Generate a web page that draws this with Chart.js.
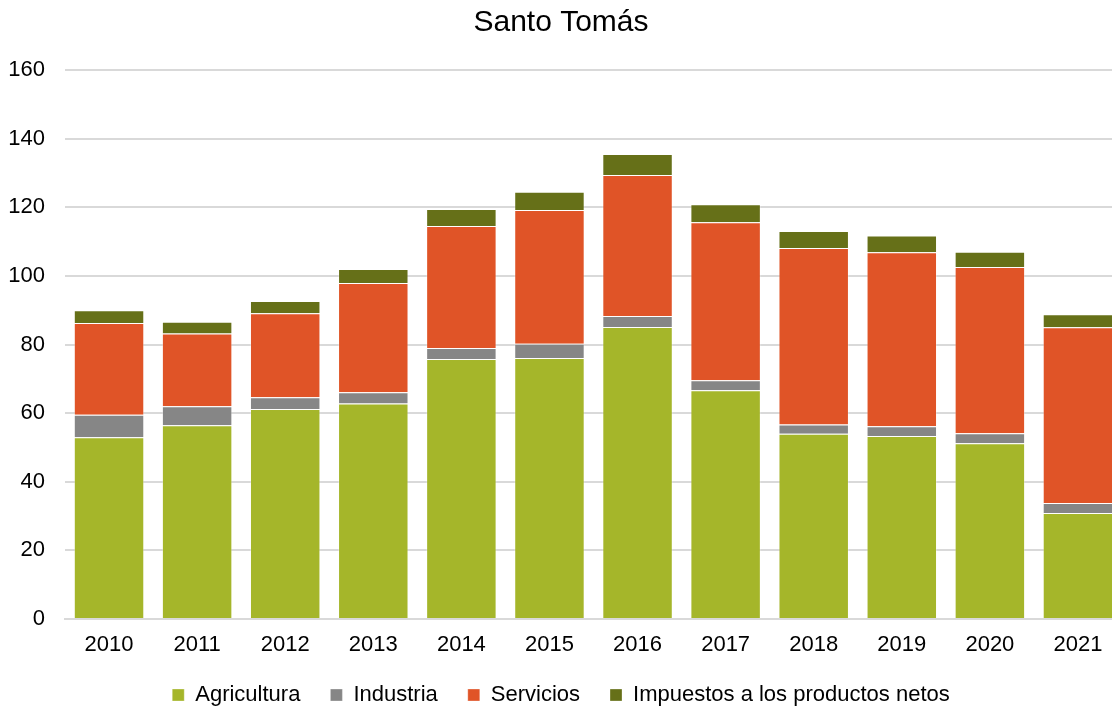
<!DOCTYPE html>
<html>
<head>
<meta charset="utf-8">
<script src="https://cdn.jsdelivr.net/npm/chart.js@4"></script>
<style>
  html, body { margin: 0; padding: 0; background: #fff; overflow: hidden; }
  #wrap { width: 1122px; height: 706px; }
</style>
</head>
<body>
<div id="wrap"><canvas id="chart"></canvas></div>
<script>
    const years = ['2010', '2011', '2012', '2013', '2014', '2015', '2016', '2017', '2018', '2019', '2020', '2021'];
    const agricultura = [53.0, 56.5, 61.2, 62.8, 75.8, 76.1, 85.1, 66.7, 54.0, 53.3, 51.2, 30.9];
    const industria = [6.5, 5.5, 3.4, 3.3, 3.2, 4.1, 3.2, 2.9, 2.7, 2.9, 2.9, 2.9];
    const servicios = [26.8, 21.2, 24.5, 31.8, 35.5, 39.0, 41.1, 46.0, 51.4, 50.7, 48.5, 51.2];
    const impuestos = [3.7, 3.4, 3.6, 4.1, 5.0, 5.3, 6.1, 5.3, 5.0, 4.9, 4.4, 3.8];
    const yTicks = [0, 20, 40, 60, 80, 100, 120, 140, 160];

    const font = 'Liberation Sans, Arial, sans-serif';
    const edge = 'rgba(255,255,255,0.3)';

    function serie(label, data, color) {
        return {
            label: label,
            data: data,
            backgroundColor: color,
            borderColor: edge,
            borderWidth: 1,
            barPercentage: 0.8,
            categoryPercentage: 1
        };
    }

    const ctx = document.getElementById('chart').getContext('2d');
    const chart = new Chart(ctx, {
        type: 'bar',
        data: {
            labels: years,
            datasets: [
                serie('Agricultura', agricultura, '#a5b62a'),
                serie('Industria', industria, '#868686'),
                serie('Servicios', servicios, '#e05427'),
                serie('Impuestos a los productos netos', impuestos, '#667018')
            ]
        },
        options: {
            responsive: true,
            maintainAspectRatio: false,
            animation: false,
            layout: { padding: { top: 0, left: 0, right: 0, bottom: -10 } },
            plugins: {
                title: {
                    display: true,
                    text: 'Santo Tomás',
                    color: '#000',
                    font: { family: font, size: 30, weight: 'normal' },
                    padding: { top: 5, bottom: 29 }
                },
                legend: {
                    position: 'bottom',
                    labels: {
                        color: '#000',
                        font: { family: font, size: 22 },
                        boxWidth: 12,
                        boxHeight: 12,
                        padding: 30
                    }
                },
                tooltip: { enabled: false }
            },
            scales: {
                x: {
                    stacked: true,
                    grid: { display: false, drawTicks: false },
                    border: { color: '#d9d9d9', width: 2 },
                    afterFit: (axis) => { axis.height = 35; },
                    ticks: { color: '#000', font: { family: font, size: 22 }, padding: 13, maxRotation: 0 }
                },
                y: {
                    stacked: true,
                    min: 0,
                    max: 160,
                    afterBuildTicks: (axis) => { axis.ticks = yTicks.map(v => ({ value: v })); },
                    afterFit: (axis) => { axis.width = 65; },
                    grid: { color: '#d9d9d9', lineWidth: 2, drawTicks: false },
                    border: { display: false },
                    ticks: { color: '#000', font: { family: font, size: 22 }, padding: 20 }
                }
            }
        }
    });
</script>
</body>
</html>
